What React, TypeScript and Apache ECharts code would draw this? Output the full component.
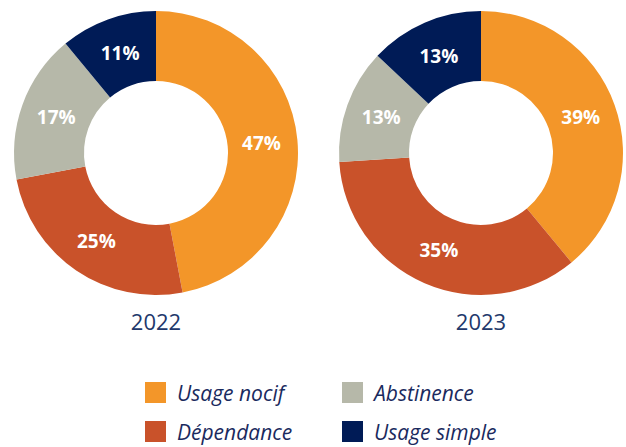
import React, { useEffect, useRef } from "react";
import * as echarts from "echarts";

const categories = ["Usage nocif", "Dépendance", "Abstinence", "Usage simple"];
const colors = ["#F39629", "#C9522A", "#B6B8A9", "#001B56"];
const years = ["2022", "2023"];
const values2022 = [47, 25, 17, 11];
const values2023 = [39, 35, 13, 13];
const seriesValues = [values2022, values2023];
const centersX = [156, 481];

export default function App() {
  const ref = useRef<HTMLDivElement>(null);
  useEffect(() => {
    if (!ref.current) return;
    const chart = echarts.init(ref.current, null, { renderer: "svg" });
    const font = "'Open Sans', 'Noto Sans', sans-serif";
    const legendBase = {
      orient: "vertical",
      top: 382,
      itemWidth: 21,
      itemHeight: 21,
      itemGap: 18,
      icon: "rect",
      padding: 0,
      textStyle: { fontFamily: font, fontSize: 21, fontStyle: "italic", color: "#1A2A5E", padding: [0, 0, 0, 6] },
    };
    const ringSeries = seriesValues.map((vals, i) => ({
      type: "pie",
      name: years[i],
      center: [centersX[i], 153],
      radius: [72, 142],
      startAngle: 90,
      clockwise: true,
      silent: true,
      emphasis: { disabled: true },
      label: { show: false },
      labelLine: { show: false },
      data: categories.map((c, j) => ({ name: c, value: vals[j] })),
    }));
    const labelSeries = seriesValues.map((vals, i) => ({
      type: "pie",
      name: years[i] + " labels",
      center: [centersX[i], 153],
      radius: [72, 134],
      startAngle: 90,
      clockwise: true,
      silent: true,
      avoidLabelOverlap: false,
      emphasis: { disabled: true },
      itemStyle: { color: "rgba(0,0,0,0)" },
      label: {
        show: true,
        position: "inside",
        formatter: "{c}%",
        color: "#FFFFFF",
        fontFamily: font,
        fontSize: 19,
        fontWeight: "bold",
      },
      labelLine: { show: false },
      data: categories.map((c, j) => ({ name: c, value: vals[j] })),
    }));
    chart.setOption({
      animation: false,
      color: colors,
      title: years.map((y, i) => ({
        text: y,
        left: centersX[i],
        top: 310,
        padding: 0,
        textAlign: "center",
        textStyle: { fontFamily: font, fontSize: 22, fontWeight: "normal", color: "#22386B" },
      })),
      legend: [
        { ...legendBase, data: [categories[0], categories[1]], left: 145 },
        { ...legendBase, data: [categories[2], categories[3]], left: 342 },
      ],
      series: [...ringSeries, ...labelSeries],
    });
    return () => chart.dispose();
  }, []);
  return <div ref={ref} style={{ width: 626, height: 447, position: "absolute", left: 0, top: 0 }} />;
}
